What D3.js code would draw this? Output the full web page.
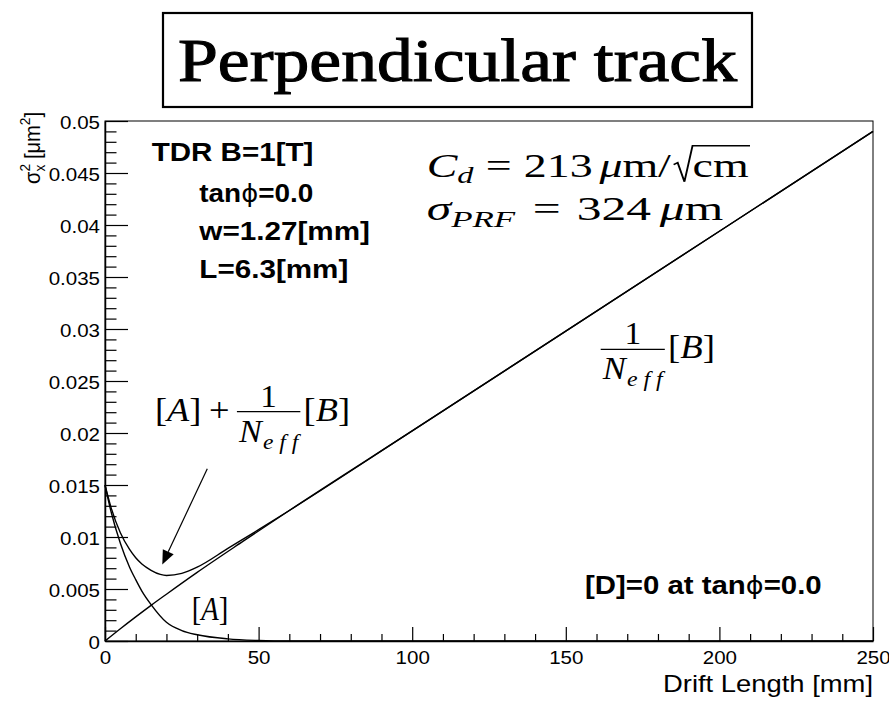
<!DOCTYPE html>
<html>
<head>
<meta charset="utf-8">
<script src="https://cdn.jsdelivr.net/npm/d3@7"></script>
<style>
    body { margin: 0; background: #fff; }
    svg { display: block; }
</style>
</head>
<body>
<svg id="drawing_region"></svg>
<script>
// values
const xTicksMajor = [0, 50, 100, 150, 200, 250];
const xTickLabels = ["0", "50", "100", "150", "200", "250"];
const yTicksMajor = [0, 0.005, 0.01, 0.015, 0.02, 0.025, 0.03, 0.035, 0.04, 0.045, 0.05];
const yTickLabels = ["0", "0.005", "0.01", "0.015", "0.02", "0.025", "0.03", "0.035", "0.04", "0.045", "0.05"];

// 1/Neff [B]
const driftB = [0, 5, 10, 15, 20, 30, 45, 60, 100, 150, 200, 250];
const sigmaB = [0, 0.00118, 0.00232, 0.00343, 0.0045, 0.0066, 0.0096, 0.01255, 0.0202, 0.0298, 0.0394, 0.0490];
// [A]
const driftA = [0, 2, 5, 8, 10, 12, 15, 20, 25, 30, 40, 50, 60, 80, 250];
const sigmaA = [0.0150, 0.0124, 0.0094, 0.0071, 0.0059, 0.0048, 0.0035, 0.0018, 0.0010, 0.0006, 0.0002, 0.00005, 0, 0, 0];
// [A] + 1/Neff [B]
const driftAB = [0, 2, 5, 8, 10, 12, 15, 18, 20, 25, 30, 40, 50, 60, 100, 150, 200, 250];
const sigmaAB = [0.0150, 0.0128, 0.0104, 0.0088, 0.0080, 0.0074, 0.0068, 0.0064, 0.0063, 0.0065, 0.0071, 0.0089, 0.0107, 0.01255, 0.0202, 0.0298, 0.0394, 0.0490];

const SANS = "'Liberation Sans', Arial, Helvetica, sans-serif";
const SERIF = "'Liberation Serif', 'Times New Roman', serif";

var config = {
    parent: '#drawing_region',
    width: 889,
    height: 702,
    margin: { top: 121, right: 16, bottom: 61, left: 105 }
};

// stretch a text to a given width (picture is a bit wider than the fonts)
function fitText(sel, w) {
    sel.attr('textLength', w).attr('lengthAdjust', 'spacingAndGlyphs');
}
function stretchText(sel, k) {
    sel.each(function () {
        const w = this.getComputedTextLength();
        d3.select(this).attr('textLength', w * k).attr('lengthAdjust', 'spacingAndGlyphs');
    });
}
function fitGroup(g, x0, x1) {
    const b = g.node().getBBox();
    const s = (x1 - x0) / b.width;
    g.attr('transform', `translate(${x0},0) scale(${s},1) translate(${-b.x},0)`);
}

// lay math pieces left to right, returns end x
function run(g, x, y, parts) {
    let cx = x;
    parts.forEach(p => {
        cx += p.pre || 0;
        const t = g.append('text')
            .attr('x', cx).attr('y', y + (p.dy || 0))
            .style('font-family', SERIF)
            .style('font-size', (p.size || 34) + 'px')
            .style('font-style', p.it ? 'italic' : 'normal')
            .text(p.t);
        cx += t.node().getComputedTextLength() + (p.gap || 0);
    });
    return cx;
}

// 1 over N_eff, returns end of bar
function frac(g, x, barY) {
    const xe = run(g, x + 2, barY + 30, [
        { t: 'N', it: true, size: 32, gap: 1 },
        { t: 'e f f', it: true, size: 22, dy: 7 }
    ]);
    const x1 = xe + 2;
    g.append('line')
        .attr('x1', x).attr('x2', x1).attr('y1', barY).attr('y2', barY)
        .attr('stroke', 'black').attr('stroke-width', 1.3);
    g.append('text')
        .attr('x', (x + x1) / 2).attr('y', barY - 5)
        .attr('text-anchor', 'middle')
        .style('font-family', SERIF).style('font-size', '31px')
        .text('1');
    return x1;
}

class DriftPlot {

    constructor(config) {
        this.config = config;
        this.init();
    }

    init() {
        let self = this;

        self.svg = d3.select(self.config.parent)
            .attr('width', self.config.width)
            .attr('height', self.config.height);

        self.inner_width = self.config.width - self.config.margin.left - self.config.margin.right;
        self.inner_height = self.config.height - self.config.margin.top - self.config.margin.bottom;

        self.chart = self.svg.append('g')
            .attr('transform', `translate(${self.config.margin.left}, ${self.config.margin.top})`);

        self.xscale = d3.scaleLinear().domain([0, 250]).range([0, self.inner_width]);
        self.yscale = d3.scaleLinear().domain([0, 0.05]).range([self.inner_height, 0]);

        self.line = d3.line()
            .x(d => self.xscale(d[0]))
            .y(d => self.yscale(d[1]))
            .curve(d3.curveMonotoneX);
    }

    update() {
        let self = this;
        self.series = [
            d3.zip(driftB, sigmaB),
            d3.zip(driftA, sigmaA),
            d3.zip(driftAB, sigmaAB)
        ];
        self.render();
    }

    render() {
        let self = this;
        const W = self.inner_width, H = self.inner_height;

        // frame
        self.chart.append('rect')
            .attr('width', W).attr('height', H)
            .attr('fill', 'none').attr('stroke', 'black').attr('stroke-width', 1);

        // minor ticks
        const xMinor = d3.range(0, 251, 10).filter(v => v % 50 != 0);
        const yMinor = d3.range(0, 51, 1).filter(v => v % 5 != 0).map(v => v / 1000);

        self.chart.append('g')
            .attr('transform', `translate(0, ${H})`)
            .call(d3.axisBottom(self.xscale).tickValues(xMinor).tickFormat('').tickSizeInner(-7).tickSizeOuter(0))
            .call(g => g.select('.domain').remove());
        self.chart.append('g')
            .call(d3.axisLeft(self.yscale).tickValues(yMinor).tickFormat('').tickSizeInner(-11.5).tickSizeOuter(0))
            .call(g => g.select('.domain').remove());

        // major axes
        const xg = self.chart.append('g')
            .attr('transform', `translate(0, ${H})`)
            .call(d3.axisBottom(self.xscale)
                .tickValues(xTicksMajor)
                .tickFormat((d, i) => xTickLabels[i])
                .tickSizeInner(-14).tickSizeOuter(0).tickPadding(10));
        const yg = self.chart.append('g')
            .call(d3.axisLeft(self.yscale)
                .tickValues(yTicksMajor)
                .tickFormat((d, i) => yTickLabels[i])
                .tickSizeInner(-23).tickSizeOuter(0).tickPadding(5));

        [xg, yg].forEach(g => {
            g.selectAll('text').style('font-family', SANS).style('font-size', '19px').attr('fill', 'black');
            g.select('.domain').attr('stroke-width', 1.5);
            stretchText(g.selectAll('text'), 1.08);
        });
        yg.selectAll('text').attr('dy', '0.4em');
        self.chart.selectAll('.tick line').attr('stroke', 'black').attr('stroke-width', 1.2);

        // curves
        self.chart.selectAll('.curve')
            .data(self.series)
            .enter()
            .append('path')
            .attr('class', 'curve')
            .attr('d', self.line)
            .attr('fill', 'none')
            .attr('stroke', 'black')
            .attr('stroke-width', 1.4);

        // arrow to the minimum
        const arrowFrom = [33.3, 0.01656], arrowTo = [18.65, 0.00736];
        const ax0 = self.xscale(arrowFrom[0]), ay0 = self.yscale(arrowFrom[1]);
        const ax1 = self.xscale(arrowTo[0]), ay1 = self.yscale(arrowTo[1]);
        const len = Math.hypot(ax1 - ax0, ay1 - ay0);
        const ux = (ax1 - ax0) / len, uy = (ay1 - ay0) / len;
        const hl = 14, hw = 6;
        self.chart.append('line')
            .attr('x1', ax0).attr('y1', ay0)
            .attr('x2', ax1 - ux * hl).attr('y2', ay1 - uy * hl)
            .attr('stroke', 'black').attr('stroke-width', 1.2);
        self.chart.append('path')
            .attr('d', `M${ax1},${ay1} L${ax1 - ux * hl - uy * hw},${ay1 - uy * hl + ux * hw} L${ax1 - ux * hl + uy * hw},${ay1 - uy * hl - ux * hw} Z`)
            .attr('fill', 'black');

        // axis titles
        const xt = self.svg.append('text')
            .attr('x', 873).attr('y', 692)
            .attr('text-anchor', 'end')
            .style('font-family', SANS).style('font-size', '24px')
            .text('Drift Length [mm]');
        fitText(xt, 210);

        const yt = self.svg.append('text')
            .attr('transform', 'translate(40, 112) rotate(-90)')
            .attr('text-anchor', 'end')
            .style('font-family', SANS).style('font-size', '22px');
        yt.append('tspan').text('σ');
        yt.append('tspan').attr('dy', -10).style('font-size', '15px').text('2');
        yt.append('tspan').attr('dx', -8.3).attr('dy', 15).style('font-size', '15px').text('x');
        yt.append('tspan').attr('dy', -5).text(' [μm');
        yt.append('tspan').attr('dy', -10).style('font-size', '15px').text('2');
        yt.append('tspan').attr('dy', 10).text(']');
        fitText(yt, 72);

        // title box
        self.svg.append('rect')
            .attr('x', 163).attr('y', 13).attr('width', 589).attr('height', 94)
            .attr('fill', 'white').attr('stroke', 'black').attr('stroke-width', 2.2);
        const tt = self.svg.append('text')
            .attr('x', 178).attr('y', 81)
            .style('font-family', SERIF).style('font-size', '62px')
            .style('stroke', 'black').style('stroke-width', 1.1)
            .text('Perpendicular track');
        fitText(tt, 559);

        // parameter block
        const info = [
            { t: 'TDR B=1[T]', x: 151.7, y: 161, w: 161.7 },
            { t: 'tan|=0.0', x: 199.3, y: 201.5, w: 114 },
            { t: 'w=1.27[mm]', x: 199.3, y: 239.5, w: 170.7 },
            { t: 'L=6.3[mm]', x: 199.3, y: 277.5, w: 149 },
            { t: '[D]=0 at tan|=0.0', x: 585, y: 593.5, w: 236.7 }
        ];
        info.forEach(d => {
            const t = self.svg.append('text')
                .attr('x', d.x).attr('y', d.y)
                .style('font-family', SANS).style('font-size', '26px').style('font-weight', 'bold');
            const parts = d.t.split('|');
            t.append('tspan').text(parts[0]);
            if (parts.length > 1) {
                t.append('tspan').style('font-family', "'DejaVu Sans', sans-serif").style('font-weight', 'normal').style('font-size', '24px').text('ϕ');
                t.append('tspan').text(parts[1]);
            }
            fitText(t, d.w);
        });

        // C_d formula
        const f1 = self.svg.append('g');
        let cx = run(f1, 0, 176.7, [
            { t: 'C', it: true },
            { t: 'd', it: true, size: 24, dy: 6, gap: 9 },
            { t: '=', gap: 9 },
            { t: '213', gap: 5 },
            { t: 'μ', it: true },
            { t: 'm/', gap: 1 }
        ]);
        const cmEnd = run(f1, cx + 15, 176.7, [{ t: 'cm' }]);
        f1.append('path')
            .attr('d', `M${cx + 1},${176.7 - 12} L${cx + 4},${176.7 - 14} L${cx + 9},${176.7 + 5} L${cx + 15},${176.7 - 31} H${cmEnd + 1}`)
            .attr('fill', 'none').attr('stroke', 'black').attr('stroke-width', 1.4);
        fitGroup(f1, 426.7, 750);

        // sigma_PRF formula
        const f2 = self.svg.append('g');
        run(f2, 0, 220, [
            { t: 'σ', it: true },
            { t: 'PRF', it: true, size: 24, dy: 7, gap: 12 },
            { t: '=', gap: 11 },
            { t: '324', gap: 6 },
            { t: 'μ', it: true },
            { t: 'm' }
        ]);
        fitGroup(f2, 426.7, 723.3);

        // [A] + 1/Neff [B]
        const f3 = self.svg.append('g');
        cx = run(f3, 0, 421, [
            { t: '[' }, { t: 'A', it: true }, { t: ']', gap: 7 },
            { t: '+', gap: 7 }
        ]);
        cx = frac(f3, cx, 411.7);
        run(f3, cx + 3, 421, [{ t: '[' }, { t: 'B', it: true }, { t: ']' }]);
        fitGroup(f3, 155, 350);

        // 1/Neff [B]
        const f4 = self.svg.append('g');
        cx = frac(f4, 0, 349.3);
        run(f4, cx + 3, 358.5, [{ t: '[' }, { t: 'B', it: true }, { t: ']' }]);
        fitGroup(f4, 600.7, 715);

        // [A]
        const f5 = self.svg.append('g');
        run(f5, 0, 620, [{ t: '[' }, { t: 'A', it: true }, { t: ']' }]);
        fitGroup(f5, 191.7, 228.3);
    }
}

const drift_plot = new DriftPlot(config);
drift_plot.update();
</script>
</body>
</html>
